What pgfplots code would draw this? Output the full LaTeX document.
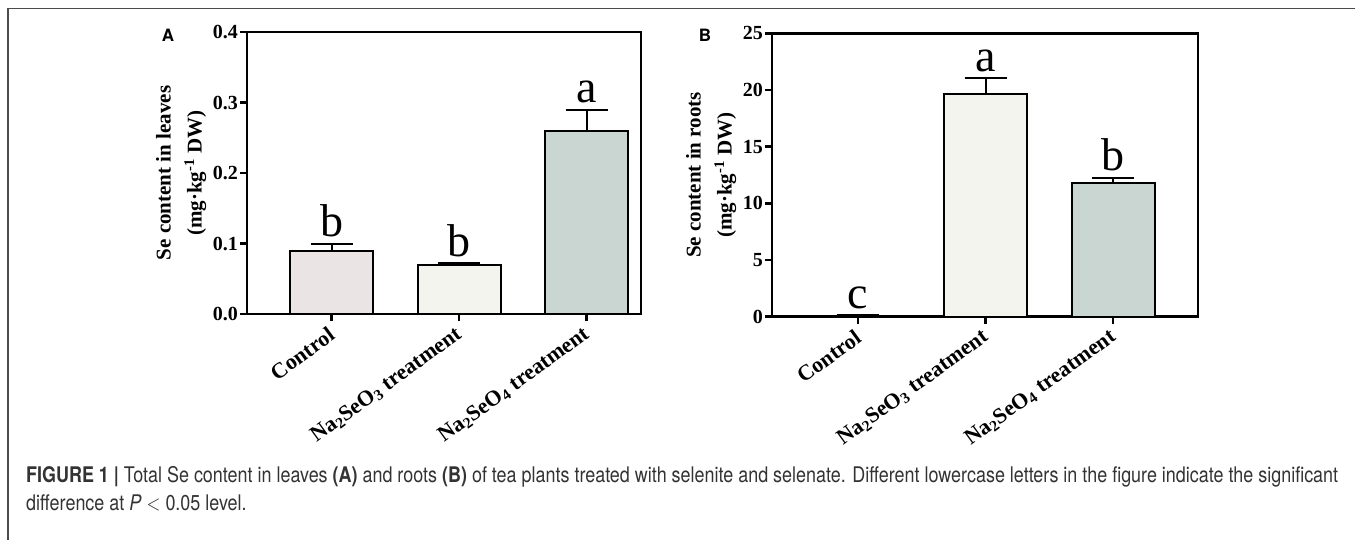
\documentclass[border=0pt]{standalone}
\usepackage{fontspec}
\setmainfont{Liberation Serif}
\setsansfont{TeX Gyre Heros}
\usepackage{pgfplots}
\pgfplotsset{compat=1.18}
\definecolor{cctrl}{HTML}{EBE4E4}
\definecolor{csel3}{HTML}{F3F4EE}
\definecolor{csel4}{HTML}{C9D6D2}
\definecolor{capgray}{HTML}{333333}
\newsavebox\capA
\newsavebox\capB
\tikzset{letter/.style={font=\fontsize{46}{46}\selectfont, anchor=base, yshift=7pt, inner sep=0pt}}
\pgfplotsset{
  mystyle/.style={
    scale only axis,
    axis line style={line width=2.6pt},
    tick style={line width=2.6pt, black},
    major tick length=7pt,
    tick align=outside,
    xtick pos=bottom, ytick pos=left,
    ybar,
    bar width=83pt,
    xtick={0,1,2},
    xticklabels={Control, Na\textsubscript{2}SeO\textsubscript{3} treatment, Na\textsubscript{2}SeO\textsubscript{4} treatment},
    x tick label style={yshift=-10pt, xshift=2pt, rotate=36, anchor=east, inner sep=2pt, font=\bfseries\fontsize{22}{24}\selectfont},
    y tick label style={font=\bfseries\fontsize{20}{22}\selectfont, inner sep=2pt},
    ylabel style={align=center, font=\bfseries\fontsize{21}{24}\selectfont},
    ylabel shift=1pt,
    every axis plot/.append style={draw=black, line width=2pt, bar shift=0pt,
      error bars/y dir=plus, error bars/y explicit,
      error bars/error bar style={line width=2pt, black},
      error bars/error mark options={rotate=90, mark size=21pt, line width=2pt, black}},
    clip=false,
  },
}
\begin{document}
\sbox\capA{\sffamily\fontsize{17}{20}\selectfont\color{capgray}\textbf{FIGURE 1 |} Total Se content in leaves \textbf{(A)} and roots \textbf{(B)} of tea plants treated with selenite and selenate. Different lowercase letters in the figure indicate the significant}%
\sbox\capB{\sffamily\fontsize{17}{20}\selectfont\color{capgray}difference at \textit{P} $<$ 0.05 level.}%
\begin{tikzpicture}
\pgfmathsetmacro\capscale{1312/\wd\capA}
\pgfmathsetmacro\capscaley{1.2*\capscale}
\path[use as bounding box] (0pt,0pt) rectangle (1355pt,-540pt);
\draw[black!70, line width=1.6pt] (8pt,-540pt) -- (8pt,-8.5pt) -- (1355pt,-8.5pt);

\begin{axis}[mystyle, at={(247pt,-314pt)}, anchor=south west, width=394pt, height=282pt,
  xmin=-0.663, xmax=2.427, ymin=0, ymax=0.4,
  ytick={0,0.1,0.2,0.3,0.4}, yticklabels={0.0,0.1,0.2,0.3,0.4},
  ylabel={Se content in leaves\\[7pt](mg·kg\textsuperscript{-1} DW)}]
\addplot[fill=cctrl] coordinates {(0,0.089) +- (0,0.011)};
\addplot[fill=csel3] coordinates {(1,0.069) +- (0,0.003)};
\addplot[fill=csel4] coordinates {(2,0.259) +- (0,0.031)};
\node[letter] at (axis cs:0,0.100) {b};
\node[letter] at (axis cs:1,0.072) {b};
\node[letter] at (axis cs:2,0.290) {a};
\end{axis}

\begin{axis}[mystyle, at={(772pt,-316.7pt)}, anchor=south west, width=426pt, height=283.4pt,
  xmin=-0.674, xmax=2.665, ymin=0, ymax=25,
  ytick={0,5,10,15,20,25}, yticklabels={0,5,10,15,20,25},
  ylabel={Se content in roots\\[7pt](mg·kg\textsuperscript{-1} DW)}]
\addplot[fill=cctrl] coordinates {(0,0.06) +- (0,0.08)};
\addplot[fill=csel3] coordinates {(1,19.65) +- (0,1.38)};
\addplot[fill=csel4] coordinates {(2,11.77) +- (0,0.49)};
\node[letter] at (axis cs:0,0.14) {c};
\node[letter] at (axis cs:1,21.03) {a};
\node[letter] at (axis cs:2,12.26) {b};
\end{axis}

\node[font=\sffamily\bfseries\fontsize{17}{19}\selectfont] at (168pt,-35pt) {A};
\node[font=\sffamily\bfseries\fontsize{17}{19}\selectfont] at (705pt,-35pt) {B};

\node[anchor=base west, inner sep=0pt] at (26pt,-482pt) {\scalebox{\capscale}[\capscaley]{\usebox\capA}};
\node[anchor=base west, inner sep=0pt] at (26pt,-510pt) {\scalebox{\capscale}[\capscaley]{\usebox\capB}};
\end{tikzpicture}
\end{document}
